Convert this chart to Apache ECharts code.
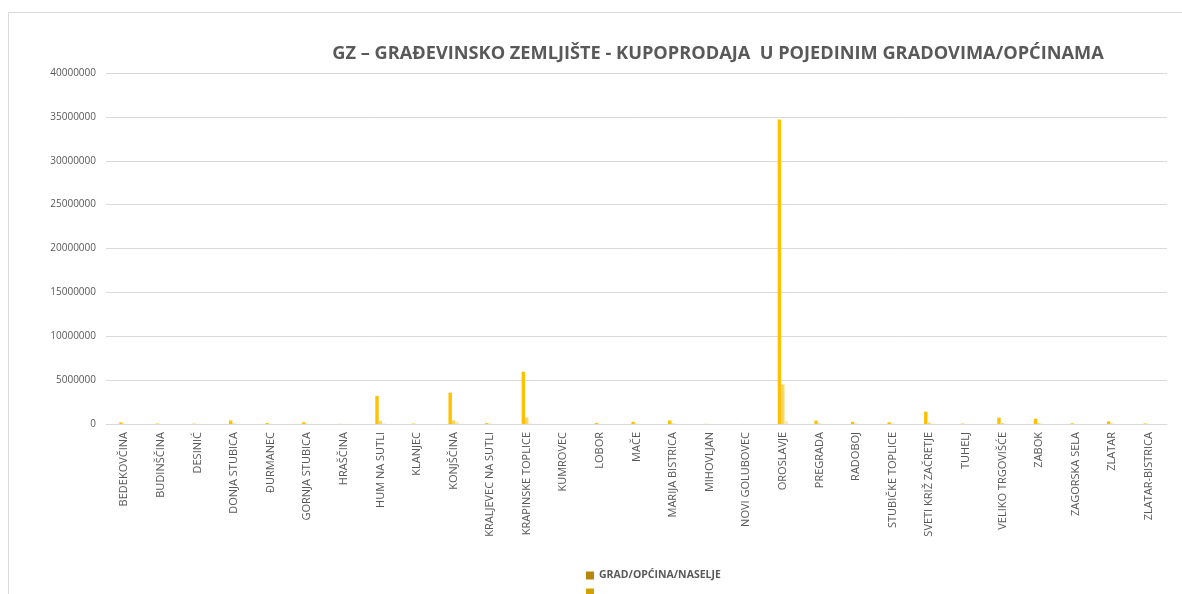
<!DOCTYPE html>
<html>
<head>
<meta charset="utf-8">
<script src="https://cdn.jsdelivr.net/npm/echarts@6/dist/echarts.min.js"></script>
<style>
  html, body { margin: 0; padding: 0; background: #fff; }
  #main { width: 1182px; height: 594px; }
</style>
</head>
<body>
<div id="main"></div>
<script>
const myChart = echarts.init(document.getElementById('main'));

// podaci
const gradovi = ['BEDEKOVČINA', 'BUDINŠČINA', 'DESINIĆ', 'DONJA STUBICA', 'ĐURMANEC', 'GORNJA STUBICA',
  'HRAŠČINA', 'HUM NA SUTLI', 'KLANJEC', 'KONJŠČINA', 'KRALJEVEC NA SUTLI', 'KRAPINSKE TOPLICE',
  'KUMROVEC', 'LOBOR', 'MAČE', 'MARIJA BISTRICA', 'MIHOVLJAN', 'NOVI GOLUBOVEC', 'OROSLAVJE',
  'PREGRADA', 'RADOBOJ', 'STUBIČKE TOPLICE', 'SVETI KRIŽ ZAČRETJE', 'TUHELJ', 'VELIKO TRGOVIŠĆE',
  'ZABOK', 'ZAGORSKA SELA', 'ZLATAR', 'ZLATAR-BISTRICA'];
const serija1 = [180000, 50000, 40000, 400000, 100000, 200000, 20000, 3200000, 50000, 3570000, 100000, 5960000,
  10000, 120000, 250000, 400000, 20000, 10000, 34700000, 380000, 250000, 200000, 1400000, 50000, 720000,
  600000, 80000, 300000, 60000];
const serija2 = [20000, 10000, 10000, 60000, 10000, 30000, 5000, 380000, 10000, 420000, 20000, 750000,
  5000, 20000, 40000, 60000, 5000, 5000, 4500000, 50000, 40000, 30000, 150000, 10000, 100000,
  100000, 15000, 50000, 10000];
const serija3 = [5000, 2000, 2000, 10000, 2000, 5000, 1000, 60000, 2000, 250000, 5000, 60000,
  1000, 5000, 8000, 10000, 1000, 1000, 300000, 10000, 8000, 5000, 30000, 2000, 20000,
  20000, 3000, 10000, 2000];
const yTicks = [0, 5000000, 10000000, 15000000, 20000000, 25000000, 30000000, 35000000, 40000000];

const tekst = '#595959';

option = {
    animation: false,
    title: {
        text: 'GZ – GRAĐEVINSKO ZEMLJIŠTE - KUPOPRODAJA  U POJEDINIM GRADOVIMA/OPĆINAMA',
        left: 713,
        textAlign: 'center',
        top: 40,
        textStyle: { fontFamily: 'Open Sans', fontWeight: 'bold', fontSize: 18.2, color: tekst }
    },
    graphic: [{
        type: 'rect',
        shape: { x: 8.5, y: 12.5, width: 1200, height: 600 },
        style: { fill: 'none', stroke: '#d9d9d9', lineWidth: 1 },
        silent: true
    }],
    legend: {
        orient: 'vertical',
        left: 586,
        top: 570,
        height: 30,
        padding: 0,
        itemWidth: 8,
        itemHeight: 8,
        itemGap: 6,
        icon: 'rect',
        textStyle: { fontFamily: 'Open Sans', fontWeight: 'bold', fontSize: 10.5, color: tekst },
        data: [
            { name: 'GRAD/OPĆINA/NASELJE', itemStyle: { color: '#b8860b' } },
            { name: ' ', itemStyle: { color: '#d4a000' } }
        ]
    },
    grid: { left: 106, right: 15, top: 73, bottom: 170, containLabel: false },
    xAxis: {
        type: 'category',
        data: gradovi,
        axisLine: { lineStyle: { color: '#d9d9d9' } },
        axisTick: { show: false },
        axisLabel: {
            rotate: 90, interval: 0, margin: 8,
            fontFamily: 'Open Sans', fontSize: 11, color: tekst
        }
    },
    yAxis: {
        type: 'value',
        min: yTicks[0],
        max: yTicks[yTicks.length - 1],
        interval: 5000000,
        axisLine: { show: false },
        axisTick: { show: false },
        splitLine: { lineStyle: { color: '#d9d9d9' } },
        axisLabel: {
            margin: 10, fontFamily: 'Open Sans', fontSize: 10, color: tekst,
            formatter: v => String(v)
        }
    },
    series: [
        {
            name: 'GRAD/OPĆINA/NASELJE', type: 'bar', data: serija1,
            barWidth: 3.4, barGap: '0%', itemStyle: { color: '#ffc000' }
        },
        {
            name: ' ', type: 'bar', data: serija2,
            barWidth: 3.4, barGap: '0%', itemStyle: { color: '#ffd466' }
        },
        {
            name: 'treća', type: 'bar', data: serija3,
            barWidth: 3.4, barGap: '0%', itemStyle: { color: '#ffe6a8' }
        }
    ]
};

myChart.setOption(option);
</script>
</body>
</html>
